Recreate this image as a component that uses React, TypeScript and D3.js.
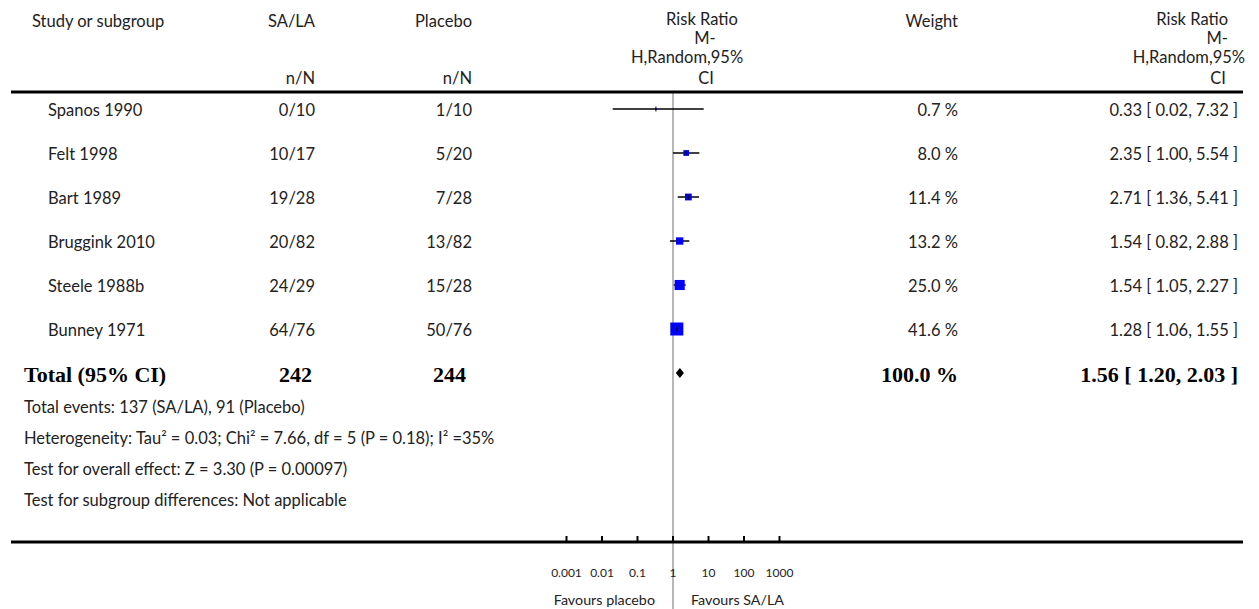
import React, { useEffect, useRef } from 'react';
import * as d3 from 'd3';

const studies = ['Spanos 1990', 'Felt 1998', 'Bart 1989', 'Bruggink 2010', 'Steele 1988b', 'Bunney 1971'];
const saLa = ['0/10', '10/17', '19/28', '20/82', '24/29', '64/76'];
const placebo = ['1/10', '5/20', '7/28', '13/82', '15/28', '50/76'];
const weights = [0.7, 8.0, 11.4, 13.2, 25.0, 41.6];
const ratios = [0.33, 2.35, 2.71, 1.54, 1.54, 1.28];
const lower = [0.02, 1.0, 1.36, 0.82, 1.05, 1.06];
const upper = [7.32, 5.54, 5.41, 2.88, 2.27, 1.55];

const totalN = ['242', '244'];
const totalRatio = 1.56;
const totalLower = 1.2;
const totalUpper = 2.03;

const axisTicks = [0.001, 0.01, 0.1, 1, 10, 100, 1000];
const tickLabels = ['0.001', '0.01', '0.1', '1', '10', '100', '1000'];

const footnotes = [
  'Total events: 137 (SA/LA), 91 (Placebo)',
  'Heterogeneity: Tau\u00b2 = 0.03; Chi\u00b2 = 7.66, df = 5 (P = 0.18); I\u00b2 =35%',
  'Test for overall effect: Z = 3.30 (P = 0.00097)',
  'Test for subgroup differences: Not applicable',
];

const W = 1259;
const H = 609;
const SANS = 'Lato, "Open Sans", sans-serif';
const SERIF = '"Liberation Serif", "DejaVu Serif", serif';
const TXT = '#222';
const FS = 16.5;

const fmt2 = d3.format('.2f');

const ForestPlot = () => {
  const svgRef = useRef<SVGSVGElement>(null);

  useEffect(() => {
    const svg = d3.select(svgRef.current);
    svg.selectAll('*').remove();

    const x = d3.scaleLog().domain([0.001, 1000]).range([566.5, 779.5]);
    const y = d3.scaleLinear().domain([0, 6]).range([109, 373]);
    const box = d3.scaleSqrt().domain([0, 41.6]).range([0, 13]);

    const text = (tx: number, ty: number, s: string, anchor = 'start', size = FS, fam = SANS, weight = 'normal', fill = TXT) =>
      svg.append('text')
        .attr('x', tx).attr('y', ty)
        .attr('text-anchor', anchor)
        .attr('font-family', fam)
        .attr('font-size', size)
        .attr('font-weight', weight)
        .attr('fill', fill)
        .text(s);

    // header
    text(32, 27, 'Study or subgroup');
    text(315, 27, 'SA/LA', 'end');
    text(472, 27, 'Placebo', 'end');
    text(315, 84, 'n/N', 'end');
    text(472, 84, 'n/N', 'end');
    text(702, 25, 'Risk Ratio', 'middle');
    text(705, 44, 'M-', 'middle');
    text(687, 63, 'H,Random,95%', 'middle');
    text(706, 84, 'CI', 'middle');
    text(958, 27, 'Weight', 'end');
    text(1228, 25, 'Risk Ratio', 'end');
    text(1228, 44, 'M-', 'end');
    text(1245, 63, 'H,Random,95%', 'end');
    text(1226, 84, 'CI', 'end');

    // vertical line of no effect
    svg.append('line')
      .attr('x1', x(1)).attr('x2', x(1))
      .attr('y1', 93).attr('y2', H)
      .attr('stroke', '#a0a0a0').attr('stroke-width', 1.5);

    // top rule
    svg.append('line')
      .attr('x1', 11).attr('x2', 1243)
      .attr('y1', 92).attr('y2', 92)
      .attr('stroke', '#000').attr('stroke-width', 3);

    // study rows
    studies.forEach((s, i) => {
      const yy = y(i);
      text(48, yy + 7, s);
      text(315, yy + 7, saLa[i], 'end');
      text(472, yy + 7, placebo[i], 'end');
      text(958, yy + 7, `${weights[i].toFixed(1)} %`, 'end');
      text(1238, yy + 7, `${fmt2(ratios[i])} [ ${fmt2(lower[i])}, ${fmt2(upper[i])} ]`, 'end');

      svg.append('line')
        .attr('x1', x(lower[i])).attr('x2', x(upper[i]))
        .attr('y1', yy).attr('y2', yy)
        .attr('stroke', '#000').attr('stroke-width', 1.5);

      const b = box(weights[i]);
      svg.append('rect')
        .attr('x', x(ratios[i]) - b / 2).attr('y', yy - b / 2)
        .attr('width', b).attr('height', b)
        .attr('fill', '#0000ff');

      svg.append('line')
        .attr('x1', x(ratios[i])).attr('x2', x(ratios[i]))
        .attr('y1', yy - 2.5).attr('y2', yy + 2.5)
        .attr('stroke', '#000').attr('stroke-width', 1);
    });

    // total row
    const ty = y(6);
    text(24, ty + 9, 'Total (95% CI)', 'start', 22, SERIF, 'bold', '#000');
    text(312, ty + 9, totalN[0], 'end', 22, SERIF, 'bold', '#000');
    text(466, ty + 9, totalN[1], 'end', 22, SERIF, 'bold', '#000');
    text(958, ty + 9, '100.0 %', 'end', 22, SERIF, 'bold', '#000');
    text(1238, ty + 9, `${fmt2(totalRatio)} [ ${fmt2(totalLower)}, ${fmt2(totalUpper)} ]`, 'end', 22, SERIF, 'bold', '#000');

    const diamond = d3.line<[number, number]>();
    svg.append('path')
      .attr('d', diamond([
        [x(totalLower), ty],
        [x(totalRatio), ty - 5],
        [x(totalUpper), ty],
        [x(totalRatio), ty + 5],
      ]) + 'Z')
      .attr('fill', '#000');

    // footnotes
    footnotes.forEach((f, i) => {
      text(24, 413 + i * 31, f, 'start', FS);
    });

    // bottom axis
    svg.append('line')
      .attr('x1', 11).attr('x2', 1243)
      .attr('y1', 542).attr('y2', 542)
      .attr('stroke', '#000').attr('stroke-width', 3);

    svg.selectAll('line.tick')
      .data(axisTicks)
      .join('line')
      .attr('class', 'tick')
      .attr('x1', d => x(d)).attr('x2', d => x(d))
      .attr('y1', 536).attr('y2', 542)
      .attr('stroke', '#000').attr('stroke-width', 2);

    axisTicks.forEach((t, i) => {
      text(x(t), 577, tickLabels[i], 'middle', 12);
    });

    text(655, 605, 'Favours placebo', 'end', 14.3);
    text(691, 605, 'Favours SA/LA', 'start', 14.3);
  }, []);

  return <svg ref={svgRef} width={W} height={H} style={{ display: 'block' }}></svg>;
};

export default function App() {
  return (
    <div style={{ position: 'absolute', left: 0, top: 0, background: '#fff' }}>
      <ForestPlot />
    </div>
  );
}
